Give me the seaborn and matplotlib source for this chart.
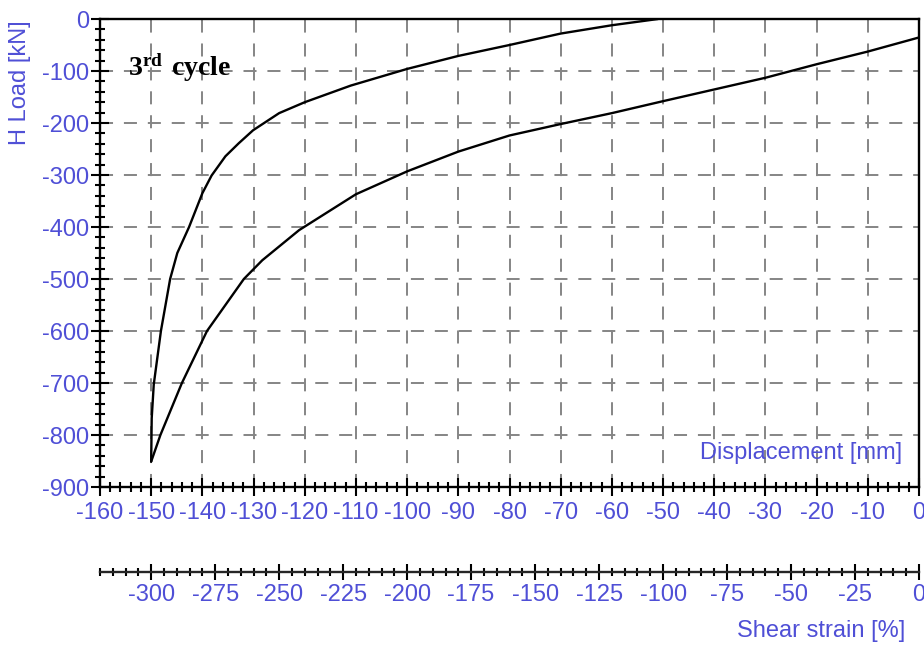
import matplotlib
matplotlib.use("Agg")
import matplotlib.pyplot as plt
import numpy as np
import pandas as pd
import seaborn as sns
from matplotlib.ticker import MultipleLocator

# ---- data ----
upper_disp = [-150, -149.9, -149.5, -148.1, -146.3, -144.9, -142.6, -140, -138.2,
              -135.5, -132.9, -130.1, -125, -120, -111, -100, -90, -80, -70, -60, -51]
upper_load = [-851, -768, -703, -600, -500, -450, -400, -335, -301,
              -264, -239, -214, -181, -160, -128, -96, -71, -50, -28, -12, 0]
lower_disp = [-150, -148.2, -144, -139.1, -131.9, -128.3, -121.1, -110, -100,
              -90, -80, -70, -60, -50, -40, -30, -20, -10, 0]
lower_load = [-851, -800, -700, -600, -500, -464, -406, -337, -293,
              -255, -224, -202, -181, -158, -135.5, -113, -87, -62.6, -35.5]

x_major = list(range(-160, 1, 10))
y_major = list(range(-900, 1, 100))
strain_major = list(range(-300, 1, 25))

df = pd.concat([
    pd.DataFrame({"disp": upper_disp, "load": upper_load, "branch": "upper"}),
    pd.DataFrame({"disp": lower_disp, "load": lower_load, "branch": "lower"}),
], ignore_index=True)

sns.set_style("white")
plt.rcParams["font.family"] = ["Liberation Sans", "DejaVu Sans"]
plt.rcParams["axes.unicode_minus"] = False
plt.rcParams["mathtext.fontset"] = "custom"
plt.rcParams["mathtext.rm"] = "Liberation Serif"
plt.rcParams["mathtext.bf"] = "Liberation Serif:bold"

blue = "#4f4fd6"
fs = 17

fig = plt.figure(figsize=(9.24, 6.45), dpi=100)
ax = fig.add_axes([0.10823, 0.24496, 0.88636, 0.72558])

sns.lineplot(data=df, x="disp", y="load", units="branch", estimator=None,
             sort=False, color="black", linewidth=1.7, ax=ax, zorder=3)

ax.set_xlim(-160, 0)
ax.set_ylim(-900, 0)
ax.set_xticks(x_major)
ax.set_yticks(y_major)
ax.xaxis.set_minor_locator(MultipleLocator(2))
ax.yaxis.set_minor_locator(MultipleLocator(20))

ax.grid(True, which="major", color="#858585", linewidth=1.4, linestyle=(0, (6.7, 5.6)))
ax.grid(False, which="minor")
ax.set_axisbelow(True)

for s in ax.spines.values():
    s.set_visible(True)
    s.set_color("black")
    s.set_linewidth(1.7)

ax.tick_params(bottom=True, left=True, top=False, right=False, which="both")
ax.tick_params(axis="both", which="major", direction="inout", length=13, width=1.5,
               color="black", labelcolor=blue, labelsize=fs)
ax.tick_params(axis="both", which="minor", direction="inout", length=7, width=1.5,
               color="black")
ax.tick_params(axis="x", which="major", pad=4)
ax.tick_params(axis="y", which="major", pad=1)

ax.set_xlabel("")
ax.set_ylabel("")

# secondary axis: shear strain
sec = ax.secondary_xaxis(-0.1816, functions=(lambda d: 2 * d, lambda s: s / 2))
sec.set_xticks(strain_major)
sec.xaxis.set_minor_locator(MultipleLocator(5))
sec.spines["bottom"].set_linewidth(1.7)
sec.tick_params(bottom=True, which="both")
sec.tick_params(which="major", direction="inout", length=11, width=1.5,
                color="black", labelcolor=blue, labelsize=fs, pad=3)
sec.tick_params(which="minor", direction="inout", length=6, width=1.5, color="black")

# texts
fig.text(20 / 924, 1 - 20 / 645, "H Load [kN]", rotation=90, color=blue,
         fontsize=fs, ha="center", va="top")
ax.text(0.980, 0.0727, "Displacement [mm]", transform=ax.transAxes, color=blue,
        fontsize=fs, ha="right", va="center")
fig.text(905 / 924, 1 - 631 / 645, "Shear strain [%]", color=blue,
         fontsize=fs, ha="right", va="center")
ax.text(0.034, 0.878, r"$\mathbf{3^{rd}\ cycle}$", transform=ax.transAxes,
        color="black", fontsize=20, ha="left", va="baseline")

fig.savefig("out.png", dpi=100)
